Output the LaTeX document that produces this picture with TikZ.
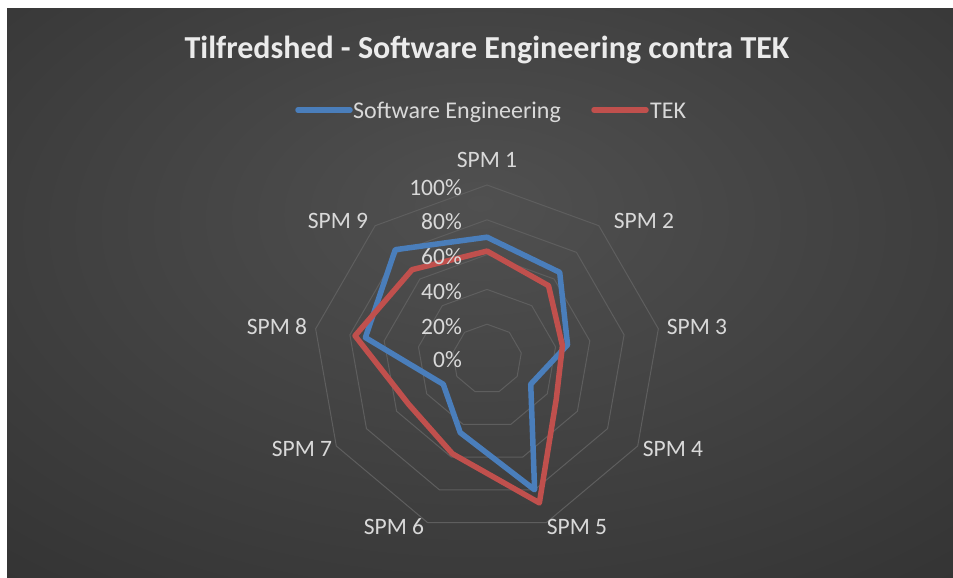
\documentclass[tikz,border=0pt]{standalone}
\usepackage{fontspec}
\setmainfont{Carlito}
\definecolor{bgin}{HTML}{505050}
\definecolor{bgout}{HTML}{262626}
\definecolor{gridc}{HTML}{5E5E5E}
\definecolor{labc}{HTML}{D9D9D9}
\definecolor{titc}{HTML}{EBEBEB}
\definecolor{seblue}{HTML}{4A7EBB}
\definecolor{tekred}{HTML}{C0504D}
\pgfdeclareradialshading{bgshade}{\pgfpoint{0bp}{8bp}}{color(0bp)=(bgin); color(58bp)=(bgout); color(80bp)=(bgout)}
\tikzset{
  lab/.style={text=labc, font=\fontsize{23.5}{26}\selectfont, inner sep=0pt},
  pct/.style={lab, anchor=east},
  leg/.style={text=labc, font=\fontsize{24}{27}\selectfont, inner sep=0pt, anchor=base west},
  gridring/.style={draw=gridc, line width=1pt},
  series/.style={line width=5.5pt, line join=round, line cap=round},
}
\begin{document}
\begin{tikzpicture}[x=1pt,y=-1pt]
\useasboundingbox (0,0) rectangle (953,578);
\fill[white] (0,0) rectangle (953,578);
\shade[shading=bgshade] (7,9) rectangle (953,578);
% title
\node[text=titc, font=\fontsize{32}{36}\selectfont\bfseries, inner sep=0pt, anchor=base] (title) at (487,59) {Tilfredshed - Software Engineering contra TEK};
% legend
\coordinate (lb1) at (298,110);
\coordinate (lb2) at (350,110);
\draw[series, seblue] (lb1) -- (lb2);
\node[leg] (legse) at (353,118) {Software Engineering};
\coordinate (lr1) at (594,110);
\coordinate (lr2) at (646,110);
\draw[series, tekred] (lr1) -- (lr2);
\node[leg] (legtek) at (650,118) {TEK};
% radar
\begin{scope}[shift={(487,359)}, yscale=-1]
  \foreach \k in {1,...,5} {
    \draw[gridring] (90:\k*34.8) \foreach \a in {50,10,-30,-70,-110,-150,-190,-230} { -- (\a:\k*34.8) } -- cycle;
  }
  \draw[series, seblue] (90:121.8) -- (50:113.1) -- (10:81.8) -- (-30:50.5) -- (-70:139.2) -- (-110:78.3) -- (-150:50.5) -- (170:123.5) -- (130:142.7) -- cycle;
  \draw[series, tekred] (90:107.9) -- (50:95.7) -- (10:76.6) -- (-30:80.0) -- (-70:153.1) -- (-110:100.9) -- (-150:90.5) -- (170:134.0) -- (130:116.6) -- cycle;
\end{scope}
% percent labels
\node[pct] (p100) at (462,188) {100\%};
\node[pct] (p80) at (462,222) {80\%};
\node[pct] (p60) at (462,257) {60\%};
\node[pct] (p40) at (462,292) {40\%};
\node[pct] (p20) at (462,327) {20\%};
\node[pct] (p0) at (462,360) {0\%};
% category labels
\node[lab] (s1) at (487,160) {SPM 1};
\node[lab] (s2) at (644,221) {SPM 2};
\node[lab] (s3) at (697,327) {SPM 3};
\node[lab] (s4) at (673,449) {SPM 4};
\node[lab] (s5) at (577,527) {SPM 5};
\node[lab] (s6) at (394,527) {SPM 6};
\node[lab] (s7) at (302,449) {SPM 7};
\node[lab] (s8) at (277,327) {SPM 8};
\node[lab] (s9) at (338,221) {SPM 9};
\end{tikzpicture}
\end{document}
